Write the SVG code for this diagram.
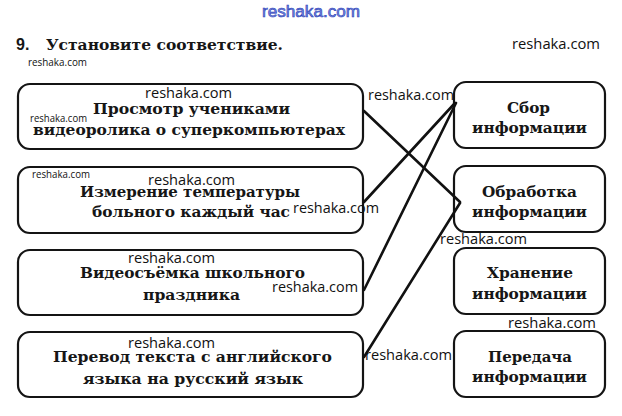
<svg xmlns="http://www.w3.org/2000/svg" width="622" height="416" viewBox="0 0 622 416">
<style>
.box{fill:#fff;stroke:#141414;stroke-width:2.2}
.t{font-family:"DejaVu Serif","Liberation Serif",serif;font-weight:bold;font-size:15px;fill:#161616}
.w{font-family:"Open Sans","Liberation Sans",sans-serif;font-size:14px;fill:#111}
.ws{font-family:"Open Sans","Liberation Sans",sans-serif;font-size:10px;fill:#111}
.ln{stroke:#111;stroke-width:2.6;fill:none;stroke-linecap:round}
</style>
<rect width="622" height="416" fill="#fff"/>
<text x="262" y="17" textLength="98" lengthAdjust="spacingAndGlyphs" style="font-family:'Liberation Sans',sans-serif;font-size:16px;fill:#7d90e0;stroke:#2a3db8;stroke-width:0.6">reshaka.com</text>
<g id="title">
<text x="16" y="50" style="font-family:'Liberation Sans',sans-serif;font-weight:bold;font-size:16px;fill:#161616">9.</text>
<text class="t" x="46" y="50" textLength="237" lengthAdjust="spacingAndGlyphs">Установите соответствие.</text>
</g>
<g id="left1">
<rect class="box" x="18" y="84" width="345" height="65" rx="12"/>
<text class="t" x="93" y="114" textLength="197" lengthAdjust="spacingAndGlyphs">Просмотр учениками</text>
<text class="t" x="33" y="135" textLength="312" lengthAdjust="spacingAndGlyphs">видеоролика о суперкомпьютерах</text>
</g>
<g id="left2">
<rect class="box" x="18" y="167" width="345" height="66" rx="12"/>
<text class="t" x="80" y="197" textLength="220" lengthAdjust="spacingAndGlyphs">Измерение температуры</text>
<text class="t" x="92" y="217" textLength="198" lengthAdjust="spacingAndGlyphs">больного каждый час</text>
</g>
<g id="left3">
<rect class="box" x="18" y="250" width="345" height="65" rx="12"/>
<text class="t" x="80" y="278" textLength="225" lengthAdjust="spacingAndGlyphs">Видеосъёмка школьного</text>
<text class="t" x="143" y="300" textLength="97" lengthAdjust="spacingAndGlyphs">праздника</text>
</g>
<g id="left4">
<rect class="box" x="18" y="332" width="345" height="65" rx="12"/>
<text class="t" x="53" y="362" textLength="279" lengthAdjust="spacingAndGlyphs">Перевод текста с английского</text>
<text class="t" x="83" y="384" textLength="220" lengthAdjust="spacingAndGlyphs">языка на русский язык</text>
</g>
<g id="right1">
<rect class="box" x="454" y="82" width="151" height="66" rx="12"/>
<text class="t" x="507" y="113" textLength="43" lengthAdjust="spacingAndGlyphs">Сбор</text>
<text class="t" x="472" y="133" textLength="115" lengthAdjust="spacingAndGlyphs">информации</text>
</g>
<g id="right2">
<rect class="box" x="454" y="166" width="151" height="66" rx="12"/>
<text class="t" x="482" y="197" textLength="95" lengthAdjust="spacingAndGlyphs">Обработка</text>
<text class="t" x="472" y="217" textLength="115" lengthAdjust="spacingAndGlyphs">информации</text>
</g>
<g id="right3">
<rect class="box" x="454" y="248" width="151" height="66" rx="12"/>
<text class="t" x="487" y="278" textLength="86" lengthAdjust="spacingAndGlyphs">Хранение</text>
<text class="t" x="472" y="299" textLength="115" lengthAdjust="spacingAndGlyphs">информации</text>
</g>
<g id="right4">
<rect class="box" x="454" y="331" width="151" height="66" rx="12"/>
<text class="t" x="488" y="362" textLength="84" lengthAdjust="spacingAndGlyphs">Передача</text>
<text class="t" x="472" y="382" textLength="115" lengthAdjust="spacingAndGlyphs">информации</text>
</g>
<g id="connectors">
<line class="ln" x1="364" y1="111" x2="460" y2="202"/>
<line class="ln" x1="364" y1="202" x2="455" y2="103"/>
<line class="ln" x1="364" y1="290" x2="456" y2="103"/>
<line class="ln" x1="364" y1="357" x2="460" y2="203"/>
</g>
<g id="watermarks">
<text class="w" x="512" y="49" textLength="88" lengthAdjust="spacingAndGlyphs">reshaka.com</text>
<text class="ws" x="28" y="66" textLength="59" lengthAdjust="spacingAndGlyphs">reshaka.com</text>
<text class="w" x="145" y="98" textLength="87" lengthAdjust="spacingAndGlyphs">reshaka.com</text>
<text class="ws" x="30" y="122" textLength="57" lengthAdjust="spacingAndGlyphs">reshaka.com</text>
<text class="w" x="368" y="100" textLength="86" lengthAdjust="spacingAndGlyphs">reshaka.com</text>
<text class="ws" x="32" y="178" textLength="58" lengthAdjust="spacingAndGlyphs">reshaka.com</text>
<text class="w" x="148" y="185" textLength="87" lengthAdjust="spacingAndGlyphs">reshaka.com</text>
<text class="w" x="293" y="213" textLength="86" lengthAdjust="spacingAndGlyphs">reshaka.com</text>
<text class="w" x="440" y="244" textLength="87" lengthAdjust="spacingAndGlyphs">reshaka.com</text>
<text class="w" x="128" y="263" textLength="87" lengthAdjust="spacingAndGlyphs">reshaka.com</text>
<text class="w" x="272" y="292" textLength="86" lengthAdjust="spacingAndGlyphs">reshaka.com</text>
<text class="w" x="508" y="328" textLength="88" lengthAdjust="spacingAndGlyphs">reshaka.com</text>
<text class="w" x="128" y="348" textLength="87" lengthAdjust="spacingAndGlyphs">reshaka.com</text>
<text class="w" x="365" y="360" textLength="87" lengthAdjust="spacingAndGlyphs">reshaka.com</text>
</g>
</svg>
